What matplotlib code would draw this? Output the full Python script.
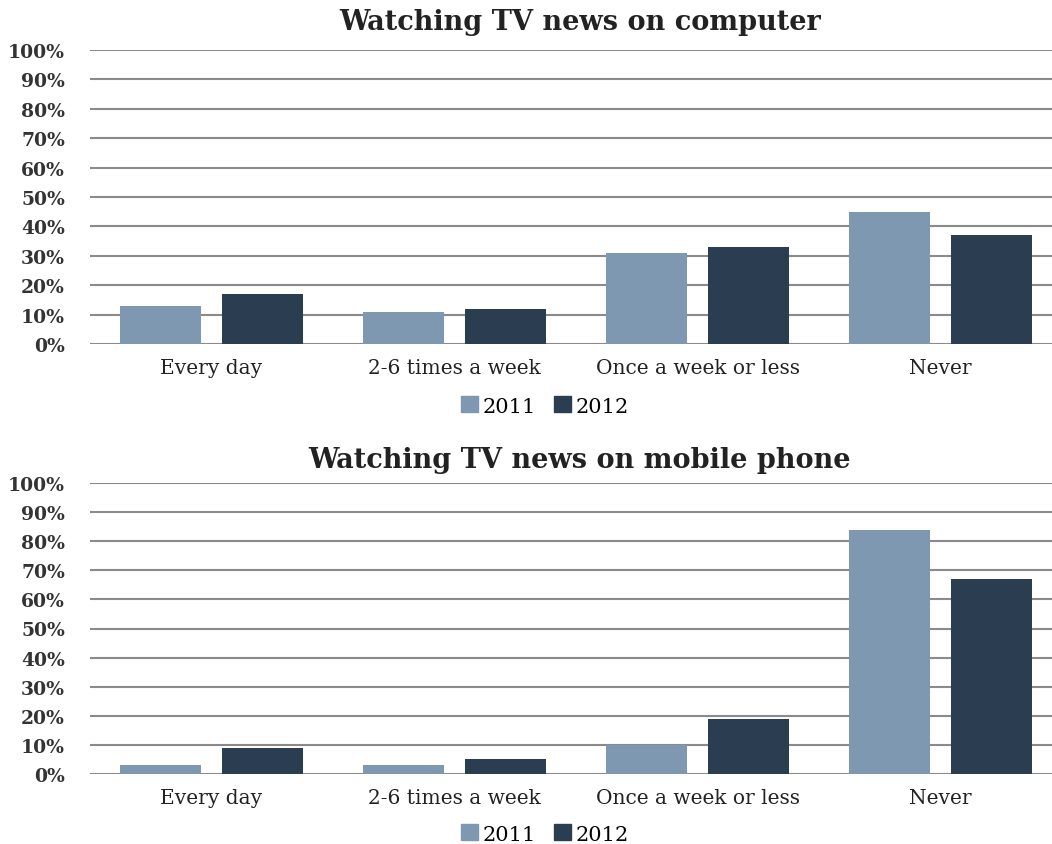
import matplotlib
matplotlib.use("Agg")
import matplotlib.pyplot as plt
import numpy as np
from matplotlib.patches import Patch

categories = ["Every day", "2-6 times a week", "Once a week or less", "Never"]
series_names = ["2011", "2012"]
computer_2011 = [13, 11, 31, 45]
computer_2012 = [17, 12, 33, 37]
mobile_2011 = [3, 3, 10, 84]
mobile_2012 = [9, 5, 19, 67]
yticks = [0, 10, 20, 30, 40, 50, 60, 70, 80, 90, 100]
ytick_labels = [f"{v}%" for v in yticks]
titles = ["Watching TV news on computer", "Watching TV news on mobile phone"]

c2011 = "#7f98b1"
c2012 = "#2b3d50"
grid_c = "#8a8a8a"
plt.rcParams["font.family"] = ["DejaVu Serif"]

fig = plt.figure(figsize=(10.52, 8.45), dpi=100)
W, H = 1052, 845

def make_axes(y0, y100):
    left = 90 / W
    right = 1052 / W
    return fig.add_axes([left, 1 - y0 / H, right - left, (y0 - y100) / H])

ax_top = make_axes(345, 51)
ax_bot = make_axes(775, 484)

bw = 0.333
off = 0.208
x = np.arange(len(categories))

panels = [
    (ax_top, computer_2011, computer_2012, 23, 407),
    (ax_bot, mobile_2011, mobile_2012, 461, 835),
]
for (ax, s1, s2, ty, ly), title in zip(panels, titles):
    ax.bar(x - off, s1, width=bw, color=c2011, zorder=3)
    ax.bar(x + off, s2, width=bw, color=c2012, zorder=3)
    ax.set_ylim(0, 100)
    ax.set_xlim(-0.5, 3.5 - 10 / 243)
    ax.set_yticks(yticks)
    ax.set_yticklabels(ytick_labels, fontsize=13.5, color="#333333")
    ax.set_xticks(x)
    ax.set_xticklabels(categories, fontsize=14.5, color="#222222")
    ax.tick_params(axis="y", length=0, pad=18)
    ax.tick_params(axis="x", length=0, pad=10)
    for sp in ax.spines.values():
        sp.set_visible(False)
    ax.yaxis.grid(True, color=grid_c, linewidth=1.5, zorder=0)
    ax.set_axisbelow(True)
    for lab in ax.get_yticklabels():
        lab.set_fontweight("bold")
    fig.text(580 / W, 1 - ty / H, title, ha="center", va="center",
             fontsize=19.5, fontweight="bold", color="#222222")
    handles = [Patch(color=c2011, label=series_names[0]),
               Patch(color=c2012, label=series_names[1])]
    fig.legend(handles=handles, loc="center", bbox_to_anchor=(545 / W, 1 - ly / H),
               ncol=2, frameon=False, fontsize=15, handlelength=0.8, handleheight=0.8,
               handletextpad=0.2, columnspacing=0.9)

fig.savefig("out.png", dpi=100)
